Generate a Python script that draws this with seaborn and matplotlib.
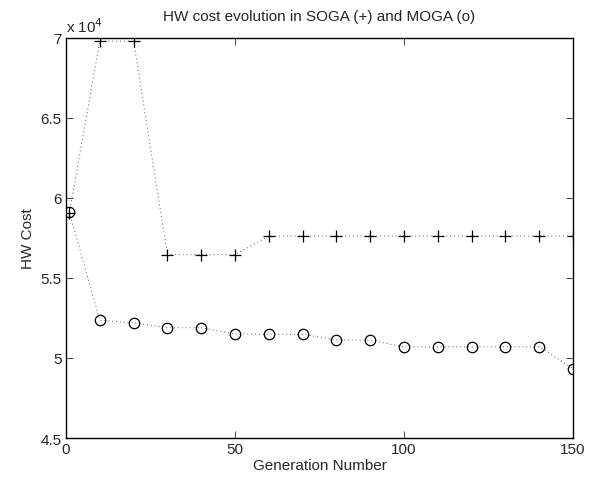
import matplotlib
matplotlib.use("Agg")
import matplotlib.pyplot as plt
import seaborn as sns
import pandas as pd
from matplotlib.ticker import FuncFormatter

generations = [1, 10, 20, 30, 40, 50, 60, 70, 80, 90, 100, 110, 120, 130, 140, 150]
soga_cost = [59080, 69800, 69800, 56460, 56460, 56460, 57620, 57620, 57620,
             57620, 57620, 57620, 57620, 57620, 57620, 57620]
moga_cost = [59100, 52360, 52190, 51890, 51890, 51500, 51480, 51480, 51140,
             51100, 50700, 50700, 50700, 50700, 50700, 49330]

df = pd.DataFrame({"gen": generations, "SOGA": soga_cost, "MOGA": moga_cost})

sns.set_style("ticks")
plt.rcParams["font.family"] = ["Liberation Sans", "DejaVu Sans"]

fig = plt.figure(figsize=(5.92, 4.81), dpi=100)
ax = fig.add_axes([0.1115, 0.0873, 0.8565, 0.8317])

# dotted connecting lines
for col in ["SOGA", "MOGA"]:
    sns.lineplot(data=df, x="gen", y=col, ax=ax, color="0.35", linewidth=0.7,
                 dashes=False, linestyle=(0, (1, 3)))
# markers
ax.plot(df["gen"], df["SOGA"], "+", color="black", markersize=9, markeredgewidth=0.9)
ax.plot(df["gen"], df["MOGA"], "o", color="black", markersize=7.5,
        markerfacecolor="none", markeredgewidth=0.9)

ax.set_xlim(0, 150)
ax.set_ylim(45000, 70000)
ax.set_xticks([0, 50, 100, 150])
ax.set_yticks([45000, 50000, 55000, 60000, 65000, 70000])
ax.yaxis.set_major_formatter(FuncFormatter(lambda v, p: f"{v/1e4:g}"))
ax.tick_params(direction="in", top=True, right=True, labelsize=11, length=5,
               width=0.6, pad=3)
for s in ax.spines.values():
    s.set_linewidth(1.0)
    s.set_color("black")

ax.set_xlabel("Generation Number", fontsize=11, labelpad=1)
ax.set_ylabel("HW Cost", fontsize=11, labelpad=4)
ax.set_title("HW cost evolution in SOGA (+) and MOGA (o)", fontsize=11, pad=13)
ax.text(0.0, 1.008, "x 10$^4$", transform=ax.transAxes, fontsize=11,
        ha="left", va="bottom")

fig.savefig("out.png", dpi=100)
